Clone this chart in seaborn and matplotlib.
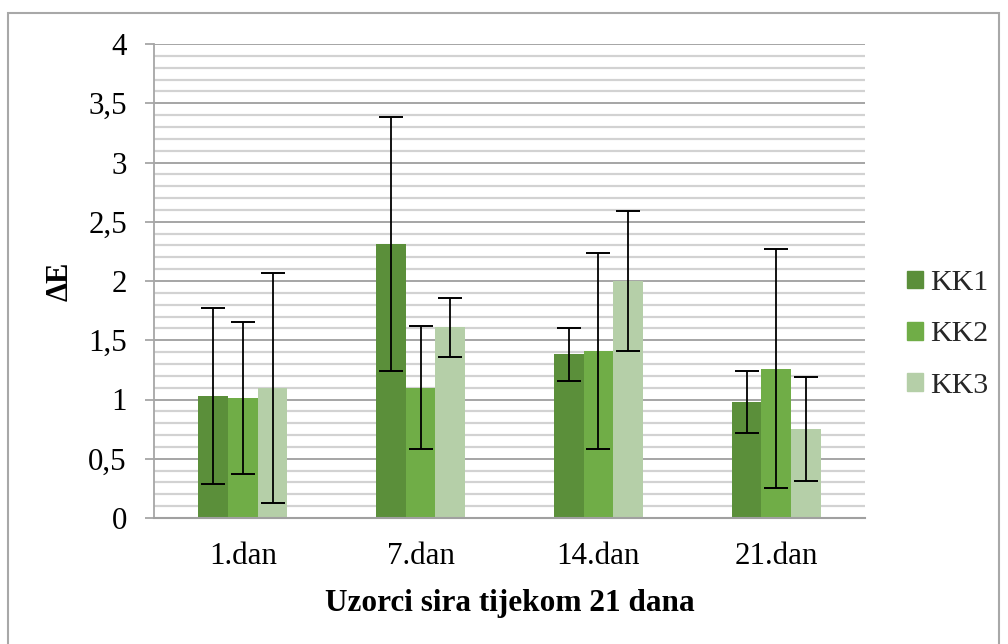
import matplotlib
matplotlib.use("Agg")
import matplotlib.pyplot as plt
import matplotlib.patches as mpatches
from matplotlib.ticker import MultipleLocator, FuncFormatter
import seaborn as sns
import pandas as pd
import numpy as np

# ---- data ----
days = ["1.dan", "7.dan", "14.dan", "21.dan"]
series = ["KK1", "KK2", "KK3"]
kk1_mean = [1.03, 2.31, 1.38, 0.98]
kk2_mean = [1.01, 1.10, 1.41, 1.26]
kk3_mean = [1.10, 1.61, 2.00, 0.75]
kk1_err = [0.745, 1.07, 0.22, 0.26]
kk2_err = [0.64, 0.52, 0.83, 1.01]
kk3_err = [0.97, 0.25, 0.59, 0.44]
y_label = "ΔE"
x_label = "Uzorci sira tijekom 21 dana"
colors = ["#5B8F3A", "#70AD47", "#B5CFA8"]

means = [kk1_mean, kk2_mean, kk3_mean]
errs = [kk1_err, kk2_err, kk3_err]
df = pd.DataFrame({
    "day": [d for s in series for d in days],
    "serie": [s for s in series for d in days],
    "value": [v for m in means for v in m],
})

sns.set_theme(style="white")
plt.rcParams["font.family"] = ["Liberation Serif", "DejaVu Serif"]

fig = plt.figure(figsize=(10.08, 6.44), dpi=100)
W, H = 1008, 644
ax = fig.add_axes([154 / W, 1 - 518 / H, (865 - 154) / W, (518 - 44) / H])

sns.barplot(data=df, x="day", y="value", hue="serie", order=days,
            hue_order=series, palette=colors, width=0.5, errorbar=None,
            linewidth=0, saturation=1, ax=ax, legend=False, zorder=2)

# error bars from bar positions
bar_conts = list(ax.containers)
for j, cont in enumerate(bar_conts):
    for p in cont.patches:
        xc = p.get_x() + p.get_width() / 2
        i = int(round(xc))
        ax.errorbar(xc, p.get_height(), yerr=errs[j][i], fmt="none",
                    ecolor="black", elinewidth=1.3, capsize=8.5,
                    capthick=1.4, zorder=3)

ax.set_ylim(0, 4)
ax.set_xlim(-0.5, 3.5)
ax.yaxis.set_major_locator(MultipleLocator(0.5))
ax.yaxis.set_minor_locator(MultipleLocator(0.1))
ax.yaxis.set_major_formatter(FuncFormatter(lambda v, _: f"{v:g}".replace(".", ",")))
ax.set_axisbelow(True)
ax.grid(which="major", axis="y", color="#9E9E9E", linewidth=1.3, zorder=0)
ax.grid(which="minor", axis="y", color="#D2D2D2", linewidth=1.6, zorder=0)
ax.grid(which="both", axis="x", visible=False)

for s in ["top", "right"]:
    ax.spines[s].set_visible(False)
ax.spines["left"].set_color("#A6A6A6")
ax.spines["bottom"].set_color("#A0A0A0")
ax.spines["left"].set_linewidth(1.3)
ax.spines["bottom"].set_linewidth(1.5)

ax.tick_params(axis="y", which="major", length=6.5, width=1.3, color="#A6A6A6",
               direction="out", pad=13, labelsize=22.3, labelcolor="black", left=True)
ax.tick_params(axis="y", which="minor", length=0)
ax.tick_params(axis="x", length=0, pad=17, labelsize=22.3, labelcolor="black")

ax.set_xlabel(x_label, fontsize=22.5, fontweight="bold", color="black")
ax.xaxis.set_label_coords(0.5, (518 - 589) / (518 - 44))
ax.xaxis.label.set_verticalalignment("top")
ax.set_ylabel(y_label, fontsize=22, fontweight="bold", color="black")
ax.yaxis.set_label_coords((60 - 154) / (865 - 154), 0.5)
ax.yaxis.label.set_verticalalignment("center")

handles = [mpatches.Patch(color=c, label=s) for c, s in zip(colors, series)]
fig.legend(handles=handles, loc="upper left",
           bbox_to_anchor=(907 / W, 1 - 270 / H), frameon=False,
           fontsize=21.5, handlelength=0.54, handleheight=0.54,
           handletextpad=0.22, labelspacing=0.85, borderpad=0,
           borderaxespad=0)

# outer chart border
fig.patches.append(mpatches.Rectangle((8 / W, -0.05), (999 - 8) / W, 1.05 - 13 / H,
                                      transform=fig.transFigure, fill=False,
                                      edgecolor="#A8A8A8", linewidth=1.5))

fig.savefig("out.png", dpi=100)
